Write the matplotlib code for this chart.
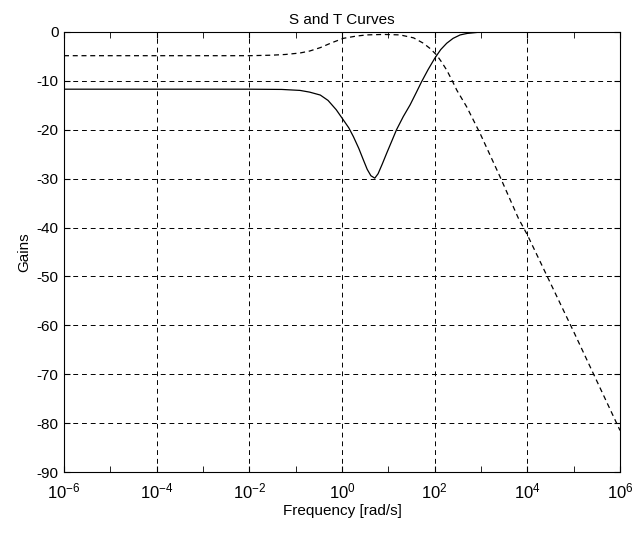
import matplotlib
matplotlib.use("Agg")
import matplotlib.pyplot as plt
import numpy as np

plt.rcParams['font.family'] = ['Liberation Sans', 'DejaVu Sans']
plt.rcParams['mathtext.default'] = 'regular'

# S curve (solid)
s_freq = [1e-6, 1e-2, 0.05, 0.124, 0.2, 0.34, 0.5, 0.75, 1.07, 1.4, 1.76, 2.3, 2.9,
          3.5, 4.2, 5.1, 6.0, 7.4, 9.2, 12, 15, 21, 29.5, 40, 52, 72, 100,
          135, 182, 250, 355, 500, 800, 1e3, 1e6]
s_gain = [-11.7, -11.7, -11.75, -11.95, -12.3, -12.9, -14.0, -15.9, -18.0, -19.6, -21.4, -23.8, -26.2,
          -28.1, -29.4, -29.9, -29.0, -27.0, -24.8, -22.2, -20.0, -17.3, -14.9, -12.4, -10.2, -7.7, -5.4,
          -3.6, -2.3, -1.3, -0.6, -0.3, -0.1, 0.0, 0.0]

# T curve (dashed)
t_freq = [1e-6, 1e-2, 0.03, 0.06, 0.124, 0.2, 0.34, 0.6, 1.07, 2.0, 3.4, 8, 17.9,
          35, 57, 80, 110, 140, 182, 240, 300, 490, 950, 2570, 6400, 1e4, 1e5, 1e6]
t_gain = [-4.85, -4.85, -4.75, -4.6, -4.3, -3.9, -3.2, -2.2, -1.3, -0.85, -0.6, -0.5, -0.6,
          -1.2, -2.3, -3.4, -4.7, -6.1, -7.8, -10.0, -11.9, -15.3, -20.7, -29.6, -38.1, -41.5, -61.3, -81.5]

xticks = [1e-6, 1e-4, 1e-2, 1e0, 1e2, 1e4, 1e6]
xticklabels = ['$10^{-6}$', '$10^{-4}$', '$10^{-2}$', '$10^{0}$', '$10^{2}$', '$10^{4}$', '$10^{6}$']
xminor = [1e-5, 1e-3, 1e-1, 1e1, 1e3, 1e5]
yticks = list(range(-90, 1, 10))

fig = plt.figure(figsize=(6.33, 5.33), dpi=100)
ax = fig.add_axes([0.1011, 0.1144, 0.8784, 0.8256])

ax.semilogx(s_freq, s_gain, color='black', linewidth=0.9)
ax.semilogx(t_freq, t_gain, color='black', linewidth=0.9, linestyle=(0, (4, 3)))

ax.set_xlim(1e-6, 1e6)
ax.set_ylim(-90, 0)
ax.set_xticks(xticks)
ax.set_xticklabels(xticklabels, fontsize=12)
ax.set_xticks(xminor, minor=True)
ax.set_xticklabels([], minor=True)
ax.set_yticks(yticks)
ax.set_yticklabels([str(v) for v in yticks], fontsize=11)
ax.tick_params(which='both', direction='in', top=True, right=True)
ax.tick_params(which='minor', length=4)
ax.tick_params(axis='x', which='major', length=4, pad=7)
ax.tick_params(axis='y', which='major', length=4, pad=4)

ax.grid(True, which='major', color='black', linestyle=(0, (5, 4)), linewidth=0.7)
for sp in ax.spines.values():
    sp.set_linewidth(0.8)

ax.set_title('S and T Curves', fontsize=11)
ax.set_xlabel('Frequency [rad/s]', fontsize=11, labelpad=2)
ax.set_ylabel('Gains', fontsize=11)

fig.savefig('out.png', dpi=100)
